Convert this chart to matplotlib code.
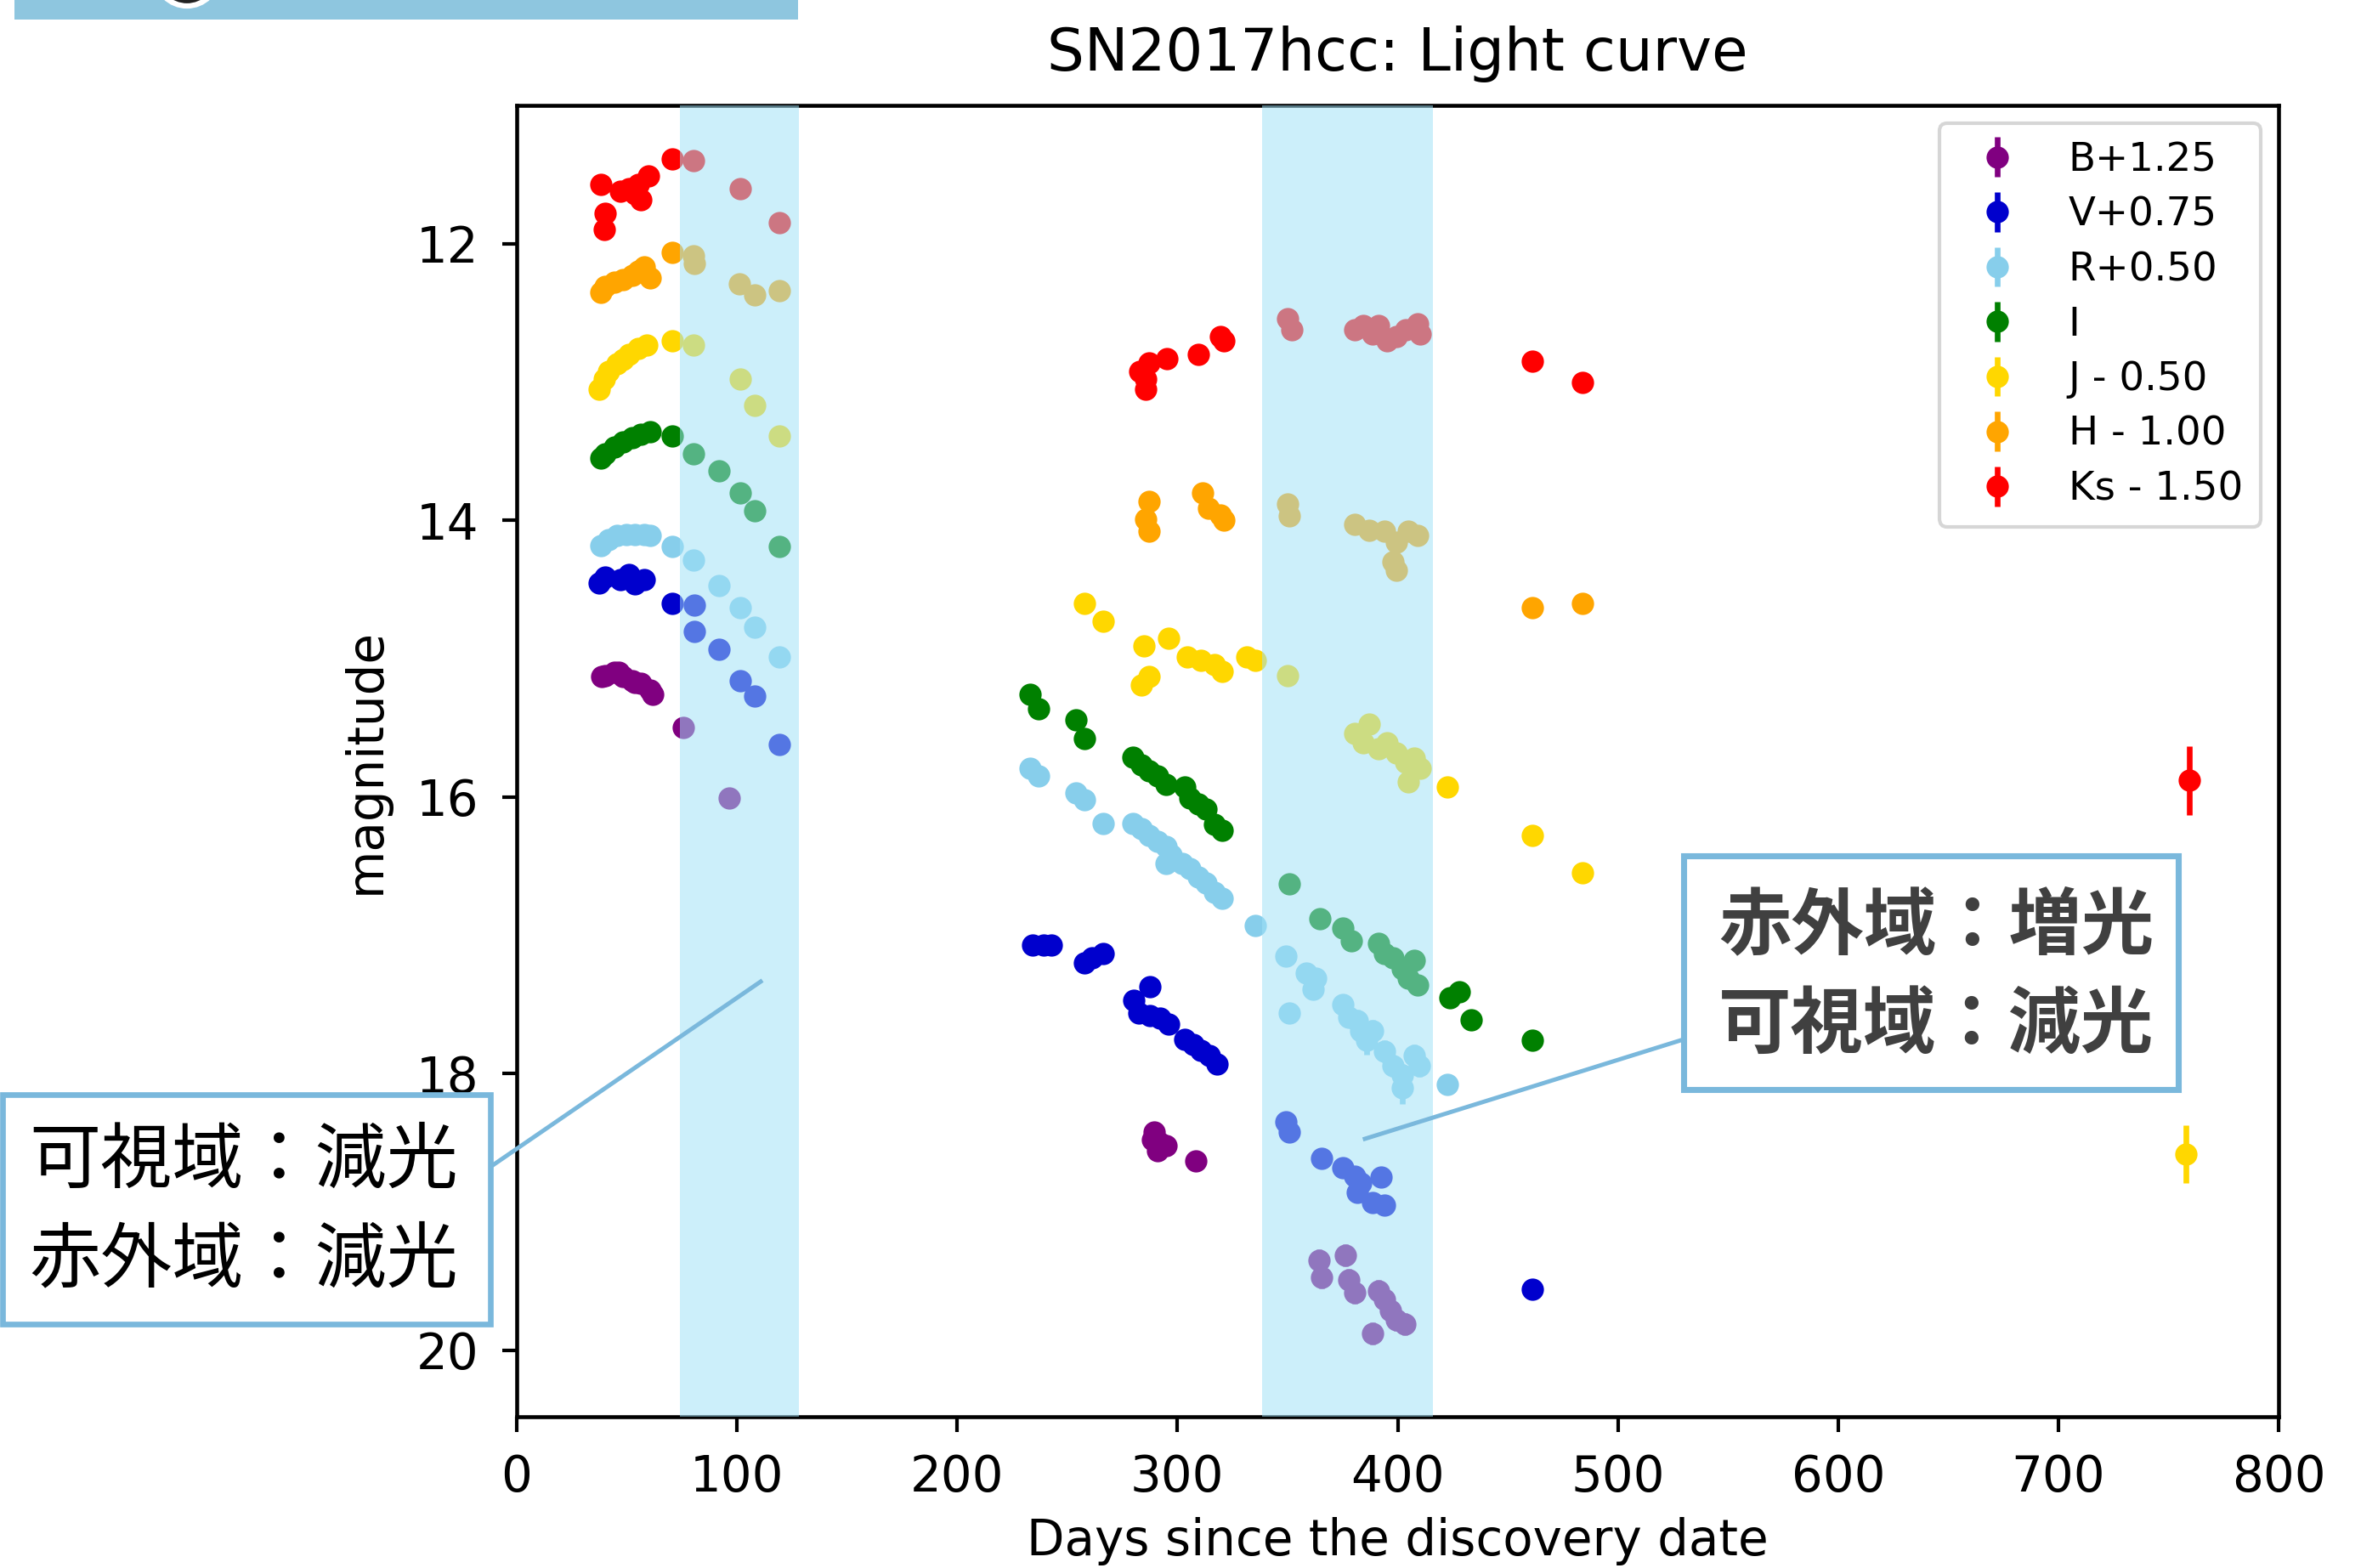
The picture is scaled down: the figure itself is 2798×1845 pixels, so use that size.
import matplotlib
matplotlib.use("Agg")
import matplotlib.pyplot as plt
from matplotlib.patches import Rectangle, Ellipse
from matplotlib.lines import Line2D

# --- light curve data (apparent magnitudes, before the plot offsets) ---
# B band
B_day = [38.6, 40.2, 44.3, 46.3, 48.3, 52.4, 53.6, 56.5, 60.5, 61.9, 75.6, 96.5,
         288.7, 289.5, 291.0, 292.2, 294.9, 308.4,
         364.2, 365.5, 376.3, 377.8, 380.5, 388.6, 391.4, 394.0, 396.8, 399.5, 403.4]
B_mag = [13.88, 13.87, 13.85, 13.85, 13.88, 13.91, 13.92, 13.93, 13.98, 14.01, 14.25, 14.76,
         17.23, 17.17, 17.31, 17.25, 17.27, 17.38,
         18.10, 18.22, 18.06, 18.24, 18.33, 18.63, 18.32, 18.38, 18.46, 18.53, 18.56]
B_err = [0.03, 0.03, 0.03, 0.03, 0.03, 0.03, 0.03, 0.03, 0.03, 0.03, 0.05, 0.06,
         0.06, 0.06, 0.06, 0.06, 0.06, 0.06,
         0.08, 0.08, 0.08, 0.08, 0.08, 0.08, 0.08, 0.08, 0.08, 0.08, 0.08]

# V band
V_day = [37.5, 40.2, 47.0, 51.1, 53.8, 57.8, 70.6, 80.8, 80.8, 91.7, 101.4, 107.9, 119.3,
         234.4, 239.3, 242.9, 257.7, 261.4, 266.3, 280.0, 282.4, 287.4, 287.4, 292.3, 296.0,
         303.4, 307.1, 310.8, 314.4, 318.1,
         349.3, 350.7, 365.5, 375.0, 380.4, 381.8, 383.2, 388.6, 392.6, 394.0,
         461.1]
V_mag = [13.70, 13.66, 13.68, 13.64, 13.71, 13.68, 13.85, 13.86, 14.05, 14.18, 14.41, 14.52, 14.87,
         16.32, 16.32, 16.32, 16.45, 16.41, 16.38, 16.72, 16.81, 16.62, 16.83, 16.85, 16.89,
         17.00, 17.04, 17.08, 17.12, 17.18,
         17.60, 17.67, 17.86, 17.93, 17.99, 18.11, 18.04, 18.18, 18.00, 18.20,
         18.81]
V_err = [0.02, 0.02, 0.02, 0.02, 0.02, 0.02, 0.02, 0.03, 0.03, 0.03, 0.03, 0.03, 0.03,
         0.03, 0.03, 0.03, 0.03, 0.03, 0.03, 0.03, 0.03, 0.03, 0.03, 0.03, 0.03,
         0.03, 0.03, 0.03, 0.03, 0.03,
         0.05, 0.05, 0.04, 0.04, 0.04, 0.04, 0.04, 0.04, 0.04, 0.04,
         0.07]

# R band
R_day = [38.1, 41.6, 45.6, 49.7, 53.8, 57.8, 60.5, 70.6, 80.3, 91.7, 101.4, 107.9, 119.3,
         233.1, 236.9, 254.1, 257.8, 266.4, 279.9, 283.6, 287.3, 291.0, 294.7, 294.7, 297.2,
         302.0, 305.7, 309.4, 313.1, 316.8, 320.5, 335.3,
         349.3, 350.7, 358.6, 361.5, 362.8, 375.0, 377.7, 381.8, 383.2, 385.9, 388.6, 394.0,
         398.0, 402.1, 402.1, 407.6, 409.7, 422.4]
R_mag = [13.68, 13.64, 13.61, 13.60, 13.60, 13.60, 13.61, 13.69, 13.79, 13.97, 14.13, 14.27, 14.49,
         15.29, 15.35, 15.47, 15.52, 15.69, 15.69, 15.73, 15.78, 15.82, 15.86, 15.98, 15.92,
         15.98, 16.02, 16.08, 16.12, 16.19, 16.23, 16.43,
         16.65, 17.06, 16.77, 16.89, 16.81, 17.00, 17.09, 17.12, 17.19, 17.26, 17.19, 17.34,
         17.44, 17.51, 17.60, 17.37, 17.44, 17.58]
R_err = [0.02, 0.02, 0.02, 0.02, 0.02, 0.02, 0.02, 0.02, 0.03, 0.03, 0.03, 0.03, 0.03,
         0.03, 0.03, 0.03, 0.03, 0.03, 0.03, 0.03, 0.03, 0.03, 0.03, 0.03, 0.03,
         0.03, 0.03, 0.03, 0.03, 0.03, 0.03, 0.04,
         0.05, 0.05, 0.05, 0.05, 0.05, 0.06, 0.06, 0.08, 0.08, 0.10, 0.08, 0.08,
         0.08, 0.08, 0.12, 0.08, 0.08, 0.05]

# I band
I_day = [38.1, 40.2, 44.3, 48.3, 52.4, 56.5, 60.5, 70.6, 80.3, 91.7, 101.4, 107.9, 119.3,
         233.2, 236.9, 254.1, 257.8, 279.9, 283.6, 287.3, 291.0, 294.7, 303.4, 305.7, 309.4,
         313.1, 316.8, 320.5,
         350.7, 364.7, 375.0, 379.1, 391.4, 394.0, 398.0, 402.1, 404.9, 407.6, 409.0,
         423.8, 427.9, 433.3, 461.1]
I_mag = [13.55, 13.52, 13.47, 13.43, 13.40, 13.38, 13.36, 13.39, 13.52, 13.64, 13.80, 13.93, 14.19,
         15.26, 15.36, 15.44, 15.58, 15.71, 15.77, 15.81, 15.85, 15.91, 15.93, 16.01, 16.05,
         16.09, 16.20, 16.24,
         16.63, 16.88, 16.95, 17.04, 17.06, 17.13, 17.16, 17.24, 17.31, 17.18, 17.36,
         17.45, 17.41, 17.61, 17.76]
I_err = [0.02, 0.02, 0.02, 0.02, 0.02, 0.02, 0.02, 0.02, 0.02, 0.02, 0.02, 0.02, 0.02,
         0.03, 0.03, 0.03, 0.03, 0.03, 0.03, 0.03, 0.03, 0.03, 0.03, 0.03, 0.03,
         0.03, 0.03, 0.03,
         0.03, 0.04, 0.04, 0.04, 0.04, 0.04, 0.04, 0.04, 0.04, 0.04, 0.04,
         0.04, 0.04, 0.04, 0.05]

# J band
J_day = [37.5, 39.7, 41.6, 45.6, 48.3, 51.1, 55.1, 59.2, 70.6, 80.3, 101.4, 107.9, 119.3,
         257.8, 266.4, 283.6, 284.8, 287.3, 296.0, 304.5, 310.6, 316.8, 320.5, 331.6, 335.3, 350.1,
         380.4, 384.4, 387.1, 391.4, 395.3, 399.5, 403.5, 404.8, 407.6, 410.3,
         422.4, 461.1, 483.9, 758.0]
J_mag = [13.55, 13.48, 13.42, 13.37, 13.34, 13.30, 13.26, 13.23, 13.20, 13.23, 13.48, 13.67, 13.89,
         15.10, 15.23, 15.69, 15.41, 15.63, 15.35, 15.49, 15.51, 15.54, 15.59, 15.49, 15.51, 15.62,
         16.04, 16.11, 15.97, 16.15, 16.11, 16.18, 16.25, 16.39, 16.22, 16.29,
         16.43, 16.78, 17.05, 19.08]
J_err = [0.02, 0.02, 0.02, 0.02, 0.02, 0.02, 0.02, 0.02, 0.02, 0.02, 0.02, 0.02, 0.02,
         0.03, 0.03, 0.03, 0.03, 0.03, 0.03, 0.03, 0.03, 0.03, 0.03, 0.03, 0.03, 0.03,
         0.05, 0.05, 0.05, 0.05, 0.05, 0.05, 0.05, 0.05, 0.05, 0.05,
         0.04, 0.04, 0.04, 0.21]

# H band
H_day = [38.1, 40.2, 44.3, 48.3, 52.4, 55.1, 57.8, 60.5, 70.6, 80.3, 80.8, 101.1, 107.9, 119.3,
         285.7, 287.0, 287.0, 311.4, 314.1, 319.5, 320.9,
         350.1, 350.7, 380.4, 387.1, 394.0, 398.0, 399.5, 399.5, 404.8, 408.9,
         461.1, 483.9]
H_mag = [13.35, 13.31, 13.28, 13.26, 13.23, 13.20, 13.17, 13.25, 13.06, 13.09, 13.14, 13.29, 13.37, 13.34,
         14.99, 14.86, 15.08, 14.80, 14.91, 14.96, 15.00,
         14.88, 14.97, 15.03, 15.07, 15.08, 15.30, 15.16, 15.36, 15.08, 15.11,
         15.63, 15.60]
H_err = [0.02, 0.02, 0.02, 0.02, 0.02, 0.02, 0.02, 0.02, 0.02, 0.02, 0.02, 0.02, 0.02, 0.02,
         0.05, 0.05, 0.05, 0.05, 0.05, 0.05, 0.05,
         0.05, 0.05, 0.05, 0.05, 0.05, 0.06, 0.05, 0.06, 0.05, 0.05,
         0.04, 0.04]

# Ks band
Ks_day = [38.1, 39.7, 40.2, 47.0, 51.1, 53.8, 55.1, 56.5, 59.7, 70.6, 80.3, 101.4, 119.3,
          283.0, 285.7, 285.7, 287.0, 295.2, 309.5, 319.5, 320.9,
          350.1, 352.0, 380.4, 384.4, 388.6, 391.4, 395.3, 399.5, 403.5, 408.9, 410.3,
          461.1, 483.9, 759.6]
Ks_mag = [13.07, 13.40, 13.28, 13.12, 13.10, 13.14, 13.07, 13.18, 13.01, 12.89, 12.90, 13.10, 13.35,
          14.42, 14.48, 14.55, 14.36, 14.33, 14.30, 14.17, 14.20,
          14.04, 14.12, 14.12, 14.09, 14.15, 14.09, 14.20, 14.17, 14.12, 14.08, 14.15,
          14.35, 14.50, 17.38]
Ks_err = [0.02, 0.02, 0.02, 0.02, 0.02, 0.02, 0.02, 0.02, 0.02, 0.02, 0.02, 0.02, 0.02,
          0.04, 0.04, 0.04, 0.04, 0.04, 0.04, 0.04, 0.04,
          0.04, 0.04, 0.04, 0.04, 0.04, 0.04, 0.04, 0.04, 0.04, 0.04, 0.04,
          0.03, 0.03, 0.25]

bands = [
    (B_day, B_mag, B_err, 1.25, "purple", "B+1.25"),
    (V_day, V_mag, V_err, 0.75, "mediumblue", "V+0.75"),
    (R_day, R_mag, R_err, 0.50, "skyblue", "R+0.50"),
    (I_day, I_mag, I_err, 0.0, "green", "I"),
    (J_day, J_mag, J_err, -0.50, "gold", "J - 0.50"),
    (H_day, H_mag, H_err, -1.00, "orange", "H - 1.00"),
    (Ks_day, Ks_mag, Ks_err, -1.50, "red", "Ks - 1.50"),
]

# shaded epochs
span1 = (74, 128)
span2 = (338.5, 416)

W, H = 2798, 1845
DPI = 300
fig = plt.figure(figsize=(W / DPI, H / DPI), dpi=DPI)
fig.patch.set_facecolor("white")


def fx(px):
    return px / W


def fy(py):
    return 1 - py / H


ax = fig.add_axes([fx(608), fy(1667), fx(2681) - fx(608), fy(124) - fy(1667)])

for day, mag, err, off, col, lab in bands:
    ax.errorbar(day, [m + off for m in mag], yerr=err, fmt="o", color=col,
                markersize=5.3, elinewidth=1.6, capsize=0, label=lab, zorder=2)

for a, b in (span1, span2):
    ax.axvspan(a, b, color=(160 / 255, 225 / 255, 247 / 255), alpha=0.53, lw=0, zorder=3)

ax.set_xlim(0, 800)
ax.set_ylim(20.48, 11.0)
ax.set_xticks(range(0, 801, 100))
ax.set_yticks([12, 14, 16, 18, 20])
ax.tick_params(axis="both", labelsize=13.9, length=4.2, width=1.0, direction="out")
ax.tick_params(axis="x", pad=6.0)
ax.tick_params(axis="y", pad=6.5)
for s in ax.spines.values():
    s.set_linewidth(1.1)

ax.set_title("SN2017hcc: Light curve", fontsize=16.6, pad=9.8)
ax.set_xlabel("Days since the discovery date", fontsize=13.9, labelpad=4.5)
ax.set_ylabel("magnitude", fontsize=13.9, labelpad=7.5)

leg = ax.legend(loc="upper right", fontsize=11.2, labelspacing=0.42, borderpad=0.45,
                handletextpad=0.8, borderaxespad=0.45)
leg.set_zorder(10)

# overlay: banner at top left
fig.add_artist(Rectangle((fx(17), fy(23)), fx(939) - fx(17), fy(0) - fy(23),
                         transform=fig.transFigure, facecolor="#8ec6df", edgecolor="none"))
fig.add_artist(Ellipse((fx(220), fy(-30)), 74 / W, 74 / H, transform=fig.transFigure,
                       facecolor="#222222", edgecolor="white", lw=1.5))

box_col = "#7ab8dc"
cjk = ["Noto Sans CJK JP", "DejaVu Sans"]

# left annotation box
fig.add_artist(Line2D([fx(577), fx(895)], [fy(1373), fy(1155)], transform=fig.transFigure,
                      color=box_col, lw=1.2, zorder=20))
fig.add_artist(Rectangle((fx(3), fy(1558)), fx(577) - fx(3), fy(1288) - fy(1558),
                         transform=fig.transFigure, facecolor="white", edgecolor=box_col,
                         lw=1.6, zorder=21))
fig.text(fx(34), fy(1367), "可視域：減光", family=cjk, fontsize=20.2, color="black",
         va="center", ha="left", zorder=22)
fig.text(fx(34), fy(1483), "赤外域：減光", family=cjk, fontsize=20.2, color="black",
         va="center", ha="left", zorder=22)

# right annotation box
fig.add_artist(Line2D([fx(1981), fx(1606)], [fy(1223), fy(1340)], transform=fig.transFigure,
                      color=box_col, lw=1.2, zorder=20))
fig.add_artist(Rectangle((fx(1981), fy(1282)), fx(2563) - fx(1981), fy(1007) - fy(1282),
                         transform=fig.transFigure, facecolor="white", edgecolor=box_col,
                         lw=1.7, zorder=21))
fig.text(fx(2022), fy(1090), "赤外域：増光", family=cjk, fontsize=20.5, color="#404040",
         fontweight="bold", va="center", ha="left", zorder=22)
fig.text(fx(2022), fy(1207), "可視域：減光", family=cjk, fontsize=20.5, color="#404040",
         fontweight="bold", va="center", ha="left", zorder=22)

fig.savefig("out.png", dpi=DPI)
